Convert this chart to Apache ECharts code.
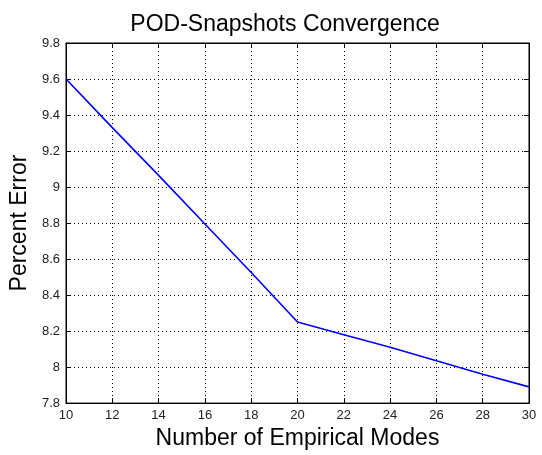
<!DOCTYPE html>
<html>
<head>
<meta charset="utf-8">
<script src="https://cdn.jsdelivr.net/npm/echarts@6/dist/echarts.min.js"></script>
<style>html,body{margin:0;padding:0;background:#fff;}#c{width:542px;height:455px;}</style>
</head>
<body>
<div id="c"></div>
<script>
var modes = [10, 12, 14, 16, 18, 20, 22, 24, 26, 28, 30];
var percentError = [9.60, 9.33, 9.065, 8.795, 8.525, 8.25, 8.18, 8.11, 8.035, 7.96, 7.89];
var titleText = 'POD-Snapshots Convergence';
var xName = 'Number of Empirical Modes';
var yName = 'Percent Error';

var FONT = '"Liberation Sans", Arial, Helvetica, sans-serif';
var chart = echarts.init(document.getElementById('c'), null, {renderer: 'canvas'});
var tickStyle = {show: true, inside: true, length: 5, lineStyle: {color: '#000', width: 1}};
var gridLine = {show: true, lineStyle: {color: '#000', width: 1, type: [1, 3]}};
var data = modes.map(function (m, i) { return [m, percentError[i]]; });

chart.setOption({
  animation: false,
  backgroundColor: '#fff',
  title: {
    text: titleText,
    left: 280,
    top: 8,
    textAlign: 'center',
    textStyle: {fontFamily: FONT, fontSize: 23, fontWeight: 'normal', color: '#000'}
  },
  grid: {left: 66, right: 13, top: 43, bottom: 49, show: true, borderColor: '#000', borderWidth: 1, containLabel: false},
  xAxis: [{
    type: 'value', min: 10, max: 30, interval: 2, position: 'bottom',
    name: xName, nameLocation: 'middle', nameGap: 21,
    nameTextStyle: {fontFamily: FONT, fontSize: 23, color: '#000'},
    axisLine: {show: true, lineStyle: {color: '#000'}},
    axisTick: tickStyle,
    axisLabel: {fontFamily: FONT, fontSize: 13, color: '#222', margin: 6},
    splitLine: gridLine
  }, {
    type: 'value', min: 10, max: 30, interval: 2, position: 'top',
    axisLine: {show: true, lineStyle: {color: '#000'}},
    axisTick: tickStyle, axisLabel: {show: false}, splitLine: {show: false}
  }],
  yAxis: [{
    type: 'value', min: 7.8, max: 9.8, interval: 0.2, position: 'left',
    name: yName, nameLocation: 'middle', nameGap: 30,
    nameTextStyle: {fontFamily: FONT, fontSize: 23, color: '#000'},
    axisLine: {show: true, lineStyle: {color: '#000'}},
    axisTick: tickStyle,
    axisLabel: {fontFamily: FONT, fontSize: 13, color: '#222', margin: 6},
    splitLine: gridLine
  }, {
    type: 'value', min: 7.8, max: 9.8, interval: 0.2, position: 'right',
    axisLine: {show: true, lineStyle: {color: '#000'}},
    axisTick: tickStyle, axisLabel: {show: false}, splitLine: {show: false}
  }],
  series: [{
    type: 'line', data: data, xAxisIndex: 0, yAxisIndex: 0,
    showSymbol: false, smooth: false,
    lineStyle: {color: '#0000ff', width: 1.6},
    itemStyle: {color: '#0000ff'}
  }]
});
</script>
</body>
</html>
